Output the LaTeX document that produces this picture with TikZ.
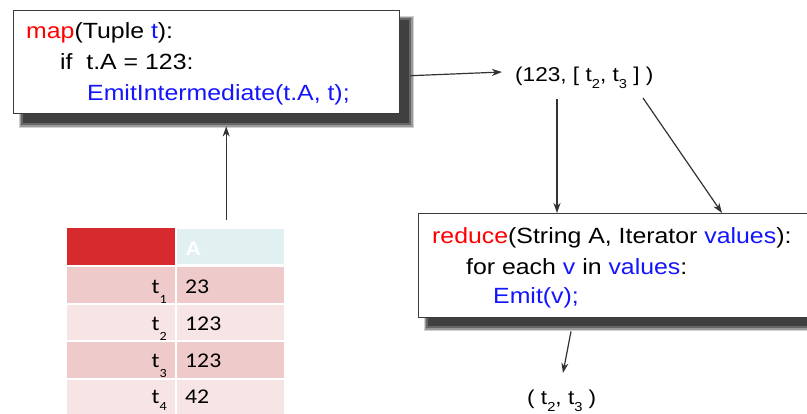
\documentclass[tikz,border=0pt]{standalone}
\usepackage{fontspec}
\setmainfont[FakeStretch=1.13]{Liberation Sans}
\newfontfamily\tablefont[FakeStretch=1.13]{Carlito}
\usetikzlibrary{arrows.meta}
\definecolor{kwred}{RGB}{255,0,0}
\definecolor{kwblue}{RGB}{20,20,255}
\definecolor{hdrred}{RGB}{215,42,47}
\definecolor{hdrcyan}{RGB}{225,240,240}
\definecolor{rowdark}{RGB}{239,202,202}
\definecolor{rowlight}{RGB}{247,228,228}
\definecolor{boxline}{RGB}{60,60,60}
\newcommand\lowsub[2]{\raisebox{-#1pt}{\fontsize{13}{13}\selectfont #2}}
\newcommand\tabsub[2]{\raisebox{-#1pt}{\fontsize{12.5}{12.5}\selectfont #2}}
\tikzset{
  codebox/.style={draw=boxline, line width=1.4pt, fill=white, anchor=north west, inner sep=0pt},
  codeline/.style={anchor=base west, inner sep=0pt, font=\fontsize{22}{31}\selectfont},
  tupletext/.style={anchor=base west, inner sep=0pt, font=\fontsize{20}{24}\selectfont},
  cell/.style={anchor=north west, inner sep=0pt, minimum width=#1pt},
  numtext/.style={anchor=base west, inner sep=0pt, font=\tablefont\fontsize{21}{24}\selectfont, text=black},
  labtext/.style={anchor=base east, inner sep=0pt, font=\tablefont\fontsize{21}{24}\selectfont, text=black},
  arr/.style={draw=black!80, line width=1.2pt, -{Stealth[length=10pt,width=7pt,inset=3pt]}},
  shade1/.style={fill=black!18},
  shade2/.style={fill=black!40},
  shade3/.style={fill=black!60},
  shade4/.style={fill=black!75}
}
\begin{document}
\begin{tikzpicture}[x=1pt,y=-1pt]
\path[use as bounding box, clip] (0,0) rectangle (807,413);
\fill[white] (0,0) rectangle (807,413);

% shadow of map box
\fill[shade1] (19,16) rectangle (414,128);
\fill[shade2] (20,17) rectangle (413,127);
\fill[shade3] (21,18) rectangle (411,125);
\fill[shade4] (23,20) rectangle (409,123);
% shadow of reduce box
\fill[shade1] (424,219) rectangle (830,331);
\fill[shade2] (425,220) rectangle (830,330);
\fill[shade3] (426,221) rectangle (830,328);
\fill[shade4] (428,223) rectangle (830,326);

% boxes
\node[codebox, minimum width=386pt, minimum height=103pt] (mapbox) at (13,10) {};
\node[codebox, minimum width=420pt, minimum height=104pt] (redbox) at (418,213) {};

% map code
\node[codeline] (m1) at (26,38) {{\color{kwred}map}(Tuple {\color{kwblue}t}):};
\node[codeline] (m2) at (60,69) {if\ \ t.A = 123:};
\node[codeline, text=kwblue] (m3) at (87,100) {EmitIntermediate(t.A, t);};

% reduce code
\node[codeline] (r1) at (432,243) {{\color{kwred}reduce}(String A, Iterator {\color{kwblue}values}):};
\node[codeline] (r2) at (466,274) {for each {\color{kwblue}v} in {\color{kwblue}values}:};
\node[codeline, text=kwblue] (r3) at (493,303) {Emit(v);};

% intermediate tuple and output
\node[tupletext] (tup) at (515,81) {(123, [ t\lowsub{7}{2}, t\lowsub{7}{3} ] )};
\node[tupletext] (out) at (527,404) {( t\lowsub{7}{2}, t\lowsub{7}{3} )};

% table
\node[cell=108, minimum height=37pt, fill=hdrred] (h0) at (67,228) {};
\node[cell=107, minimum height=35pt, fill=hdrcyan] (hA) at (177,229) {};
\node[anchor=base west, inner sep=0pt, font=\tablefont\bfseries\fontsize{21}{24}\selectfont, text=white] (hAt) at (186,255) {A};

\node[cell=108, minimum height=36pt, fill=rowdark] (c11) at (67,267) {};
\node[cell=107, minimum height=36pt, fill=rowdark] (c12) at (177,267) {};
\node[cell=108, minimum height=35pt, fill=rowlight] (c21) at (67,305) {};
\node[cell=107, minimum height=35pt, fill=rowlight] (c22) at (177,305) {};
\node[cell=108, minimum height=36pt, fill=rowdark] (c31) at (67,342) {};
\node[cell=107, minimum height=36pt, fill=rowdark] (c32) at (177,342) {};
\node[cell=108, minimum height=40pt, fill=rowlight] (c41) at (67,380) {};
\node[cell=107, minimum height=40pt, fill=rowlight] (c42) at (177,380) {};

\node[labtext] (l1) at (167,293) {t\tabsub{10}{1}};
\node[labtext] (l2) at (167,330) {t\tabsub{10}{2}};
\node[labtext] (l3) at (167,367) {t\tabsub{10}{3}};
\node[labtext] (l4) at (167,403) {t\tabsub{7}{4}};
\node[numtext] (n1) at (185,293) {23};
\node[numtext] (n2) at (185,330) {123};
\node[numtext] (n3) at (185,367) {123};
\node[numtext] (n4) at (185,403) {42};

% connectors
\coordinate (upstart) at ([xshift=-4.5pt,yshift=9pt]hA.north);
\draw[arr] (upstart) -- ([yshift=-12pt]mapbox.south -| upstart);
\draw[arr] ([xshift=10pt,yshift=-13.5pt]mapbox.east) -- ([xshift=-13pt,yshift=9pt]tup.base west);
\draw[arr] ([xshift=42pt,yshift=-18pt]tup.base west) coordinate (d1) -- (d1 |- redbox.north);
\draw[arr] ([xshift=128pt,yshift=-17pt]tup.base west) -- ([xshift=304pt]redbox.north west);
\draw[arr] ([xshift=153pt,yshift=-13pt]redbox.south west) -- ([xshift=36pt,yshift=31pt]out.base west);
\end{tikzpicture}
\end{document}
